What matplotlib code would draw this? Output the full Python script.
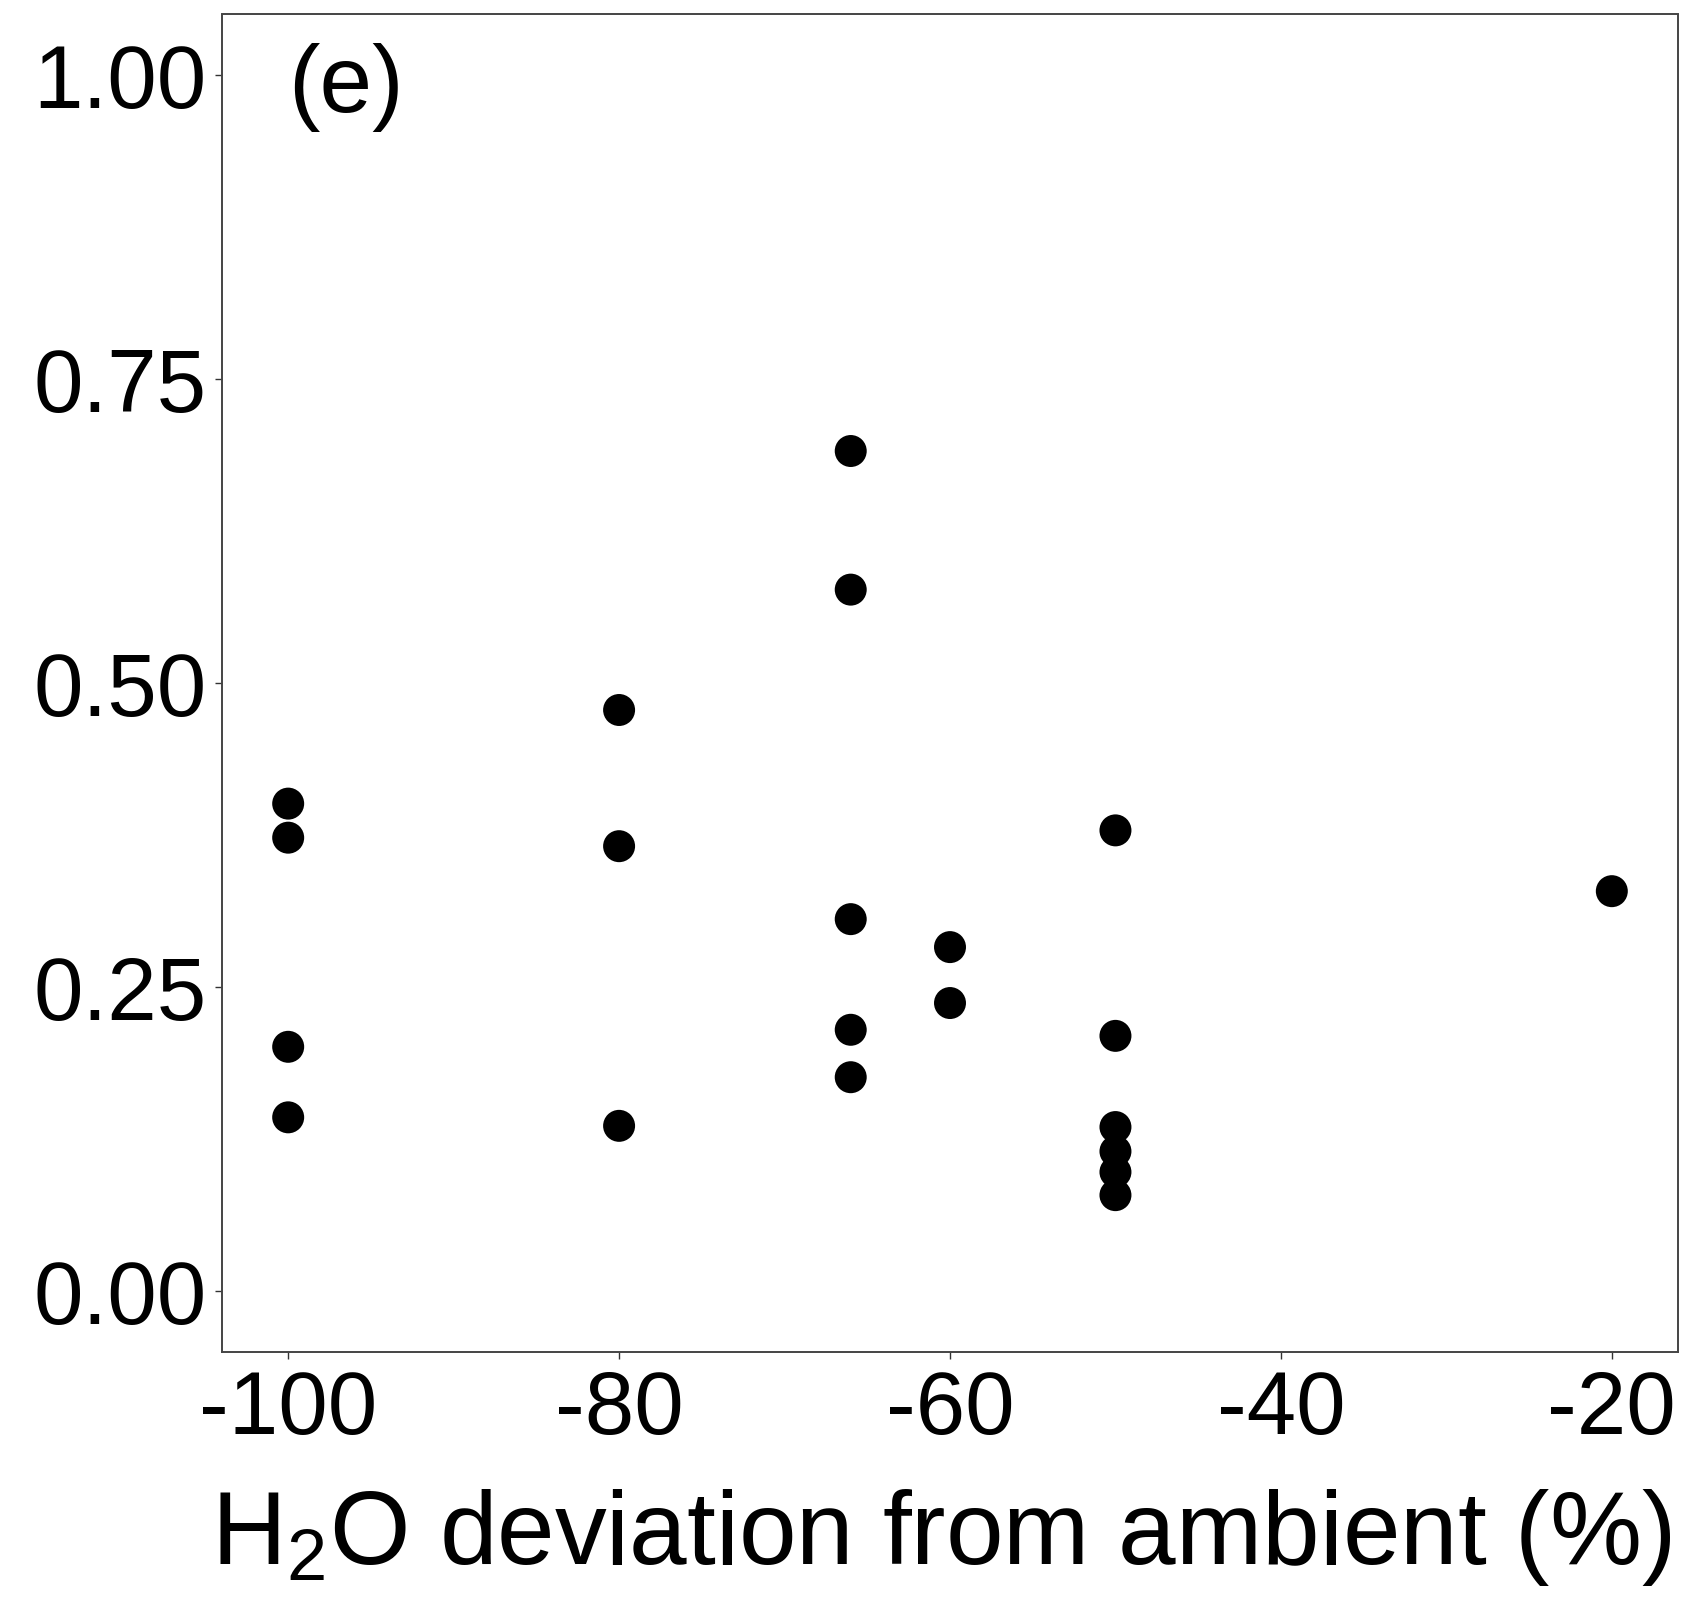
import matplotlib
matplotlib.use("Agg")
import matplotlib.pyplot as plt

# Data
x_vals = [-100, -100, -100, -100,
          -80, -80, -80,
          -66, -66, -66, -66, -66,
          -60, -60,
          -50, -50, -50, -50, -50, -50,
          -20]
y_vals = [0.401, 0.373, 0.201, 0.143,
          0.478, 0.366, 0.136,
          0.691, 0.577, 0.306, 0.215, 0.176,
          0.283, 0.237,
          0.379, 0.210, 0.135, 0.115, 0.098, 0.079,
          0.329]
x_ticks = [-100, -80, -60, -40, -20]
y_ticks = [0.00, 0.25, 0.50, 0.75, 1.00]
y_tick_labels = ["0.00", "0.25", "0.50", "0.75", "1.00"]
panel_label = "(e)"
x_label = r"H$_2$O deviation from ambient (%)"

plt.rcParams['font.family'] = ['Liberation Sans', 'DejaVu Sans']
plt.rcParams['mathtext.fontset'] = 'custom'
plt.rcParams['mathtext.rm'] = 'Liberation Sans'
plt.rcParams['mathtext.it'] = 'Liberation Sans:italic'
plt.rcParams['mathtext.bf'] = 'Liberation Sans:bold'

fig = plt.figure(figsize=(16.85, 16.01), dpi=100)
ax = fig.add_axes([222 / 1685, 1 - 1352 / 1601, (1678 - 222) / 1685, (1352 - 14.5) / 1601])

ax.scatter(x_vals, y_vals, s=530, color='black', edgecolors='none', zorder=3)

ax.set_xlim(-104, -16)
ax.set_ylim(-0.05, 1.05)
ax.set_xticks(x_ticks)
ax.set_xticklabels([str(v) for v in x_ticks])
ax.set_yticks(y_ticks)
ax.set_yticklabels(y_tick_labels)

ax.tick_params(axis='both', direction='out', length=5, width=1.0, color='#333333',
               labelsize=64, labelcolor='black')
ax.tick_params(axis='y', pad=6)
ax.tick_params(axis='x', pad=7)

for sp in ax.spines.values():
    sp.set_color('#444444')
    sp.set_linewidth(1.4)

ax.set_xlabel(x_label, fontsize=74.5)
ax.xaxis.set_label_coords(0.494, -0.101)
ax.xaxis.label.set_verticalalignment('top')

ax.text(-100, 0.99, panel_label, fontsize=68, ha='left', va='center')

fig.savefig("out.png", dpi=100, facecolor='white')
